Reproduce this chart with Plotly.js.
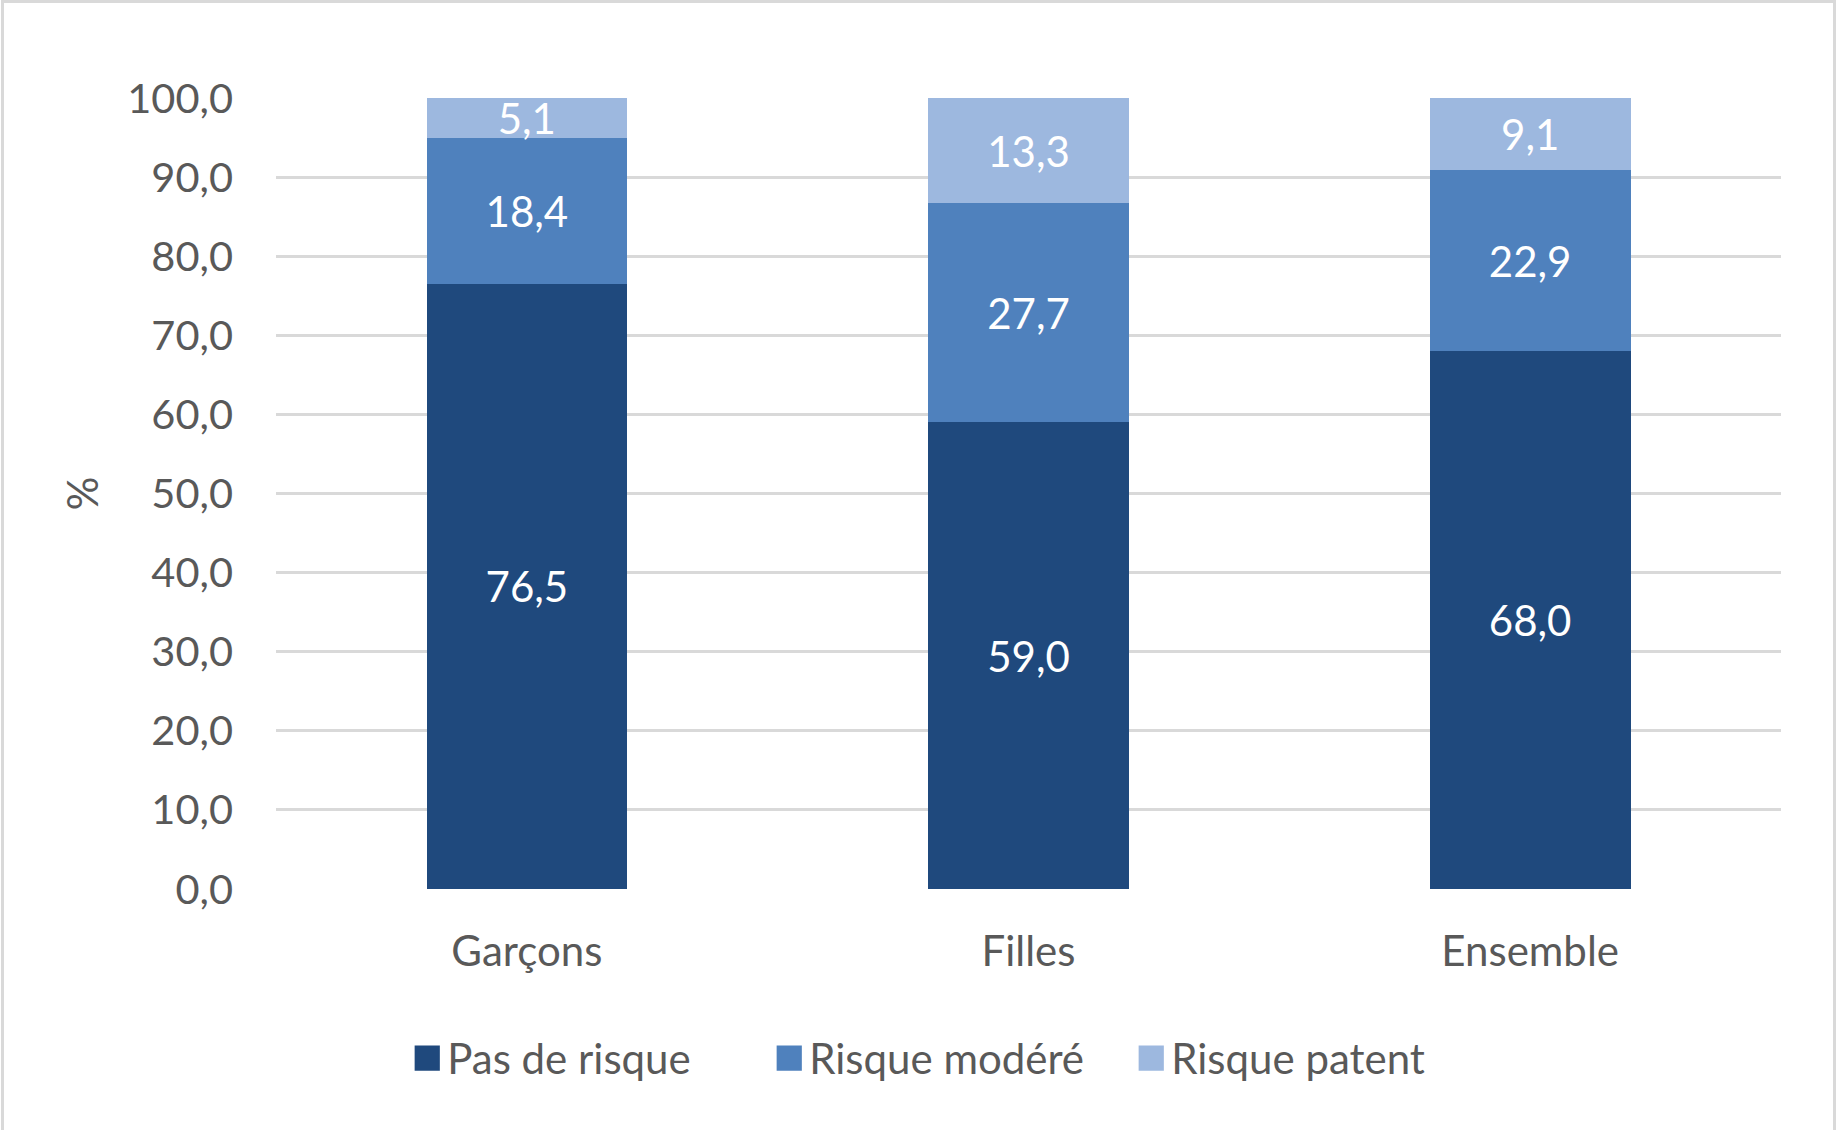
<!DOCTYPE html>
<html>
<head>
<meta charset="utf-8">
<script src="https://cdn.plot.ly/plotly-3.0.1.min.js"></script>
<style>
  html, body { margin: 0; padding: 0; background: #ffffff; }
  #chart { width: 1839px; height: 1130px; }
  #frame { position: absolute; left: 1px; top: 0px; width: 1835px; height: 1130px; border: 3px solid #d9d9d9; border-bottom: none; box-sizing: border-box; pointer-events: none; }
</style>
</head>
<body>
<div id="chart"></div>
<div id="frame"></div>
<script>
const categories = ['Garçons', 'Filles', 'Ensemble'];
const pasDeRisque = [76.5, 59.0, 68.0];
const risqueModere = [18.4, 27.7, 22.9];
const risquePatent = [5.1, 13.3, 9.1];
const seriesNames = ['Pas de risque', 'Risque modéré', 'Risque patent'];
const seriesColors = ['#1f497d', '#4f81bd', '#9db8df'];
const yTitle = '%';

const FONT = 'Lato, "Open Sans", sans-serif';
const TEXT_GRAY = '#595959';

const seriesValues = [pasDeRisque, risqueModere, risquePatent];
const traces = seriesValues.map((vals, i) => ({
  type: 'bar',
  name: seriesNames[i],
  x: categories,
  y: vals,
  marker: { color: seriesColors[i], line: { width: 0 } },
  texttemplate: '%{y:.1f}',
  textposition: 'inside',
  insidetextanchor: 'middle',
  constraintext: 'none',
  textfont: { family: FONT, size: 42, color: '#ffffff' },
  hoverinfo: 'x+y+name'
}));

const layout = {
  width: 1839,
  height: 1130,
  barmode: 'stack',
  bargap: 0.6,
  separators: ',.',
  paper_bgcolor: '#ffffff',
  plot_bgcolor: '#ffffff',
  margin: { l: 276, r: 58, t: 98, b: 241 },
  font: { family: FONT, size: 42, color: TEXT_GRAY },
  showlegend: true,
  legend: {
    orientation: 'h',
    x: 0.448,
    xanchor: 'center',
    y: -0.214,
    yanchor: 'middle',
    font: { family: FONT, size: 42, color: TEXT_GRAY },
    traceorder: 'normal',
    itemclick: false,
    entrywidth: 317
  },
  xaxis: {
    type: 'category',
    showgrid: false,
    zeroline: false,
    showline: false,
    ticks: '',
    ticklabelstandoff: 34,
    tickfont: { family: FONT, size: 42, color: TEXT_GRAY }
  },
  yaxis: {
    range: [0, 100],
    dtick: 10,
    tick0: 0,
    tickformat: '.1f',
    showgrid: true,
    gridcolor: '#d9d9d9',
    gridwidth: 3,
    zeroline: false,
    showline: false,
    ticks: '',
    ticklabelstandoff: 42,
    tickfont: { family: FONT, size: 41.5, color: TEXT_GRAY },
    title: { text: yTitle, standoff: 15, font: { family: FONT, size: 42, color: TEXT_GRAY } }
  }
};

Plotly.newPlot('chart', traces, layout, { displayModeBar: false, staticPlot: true }).then(() => {
  document.querySelectorAll('#chart .legend .legendpoints path').forEach(p => {
    const t = p.getAttribute('transform') || '';
    p.setAttribute('transform', t + ' scale(2.1)');
  });
});
</script>
</body>
</html>
